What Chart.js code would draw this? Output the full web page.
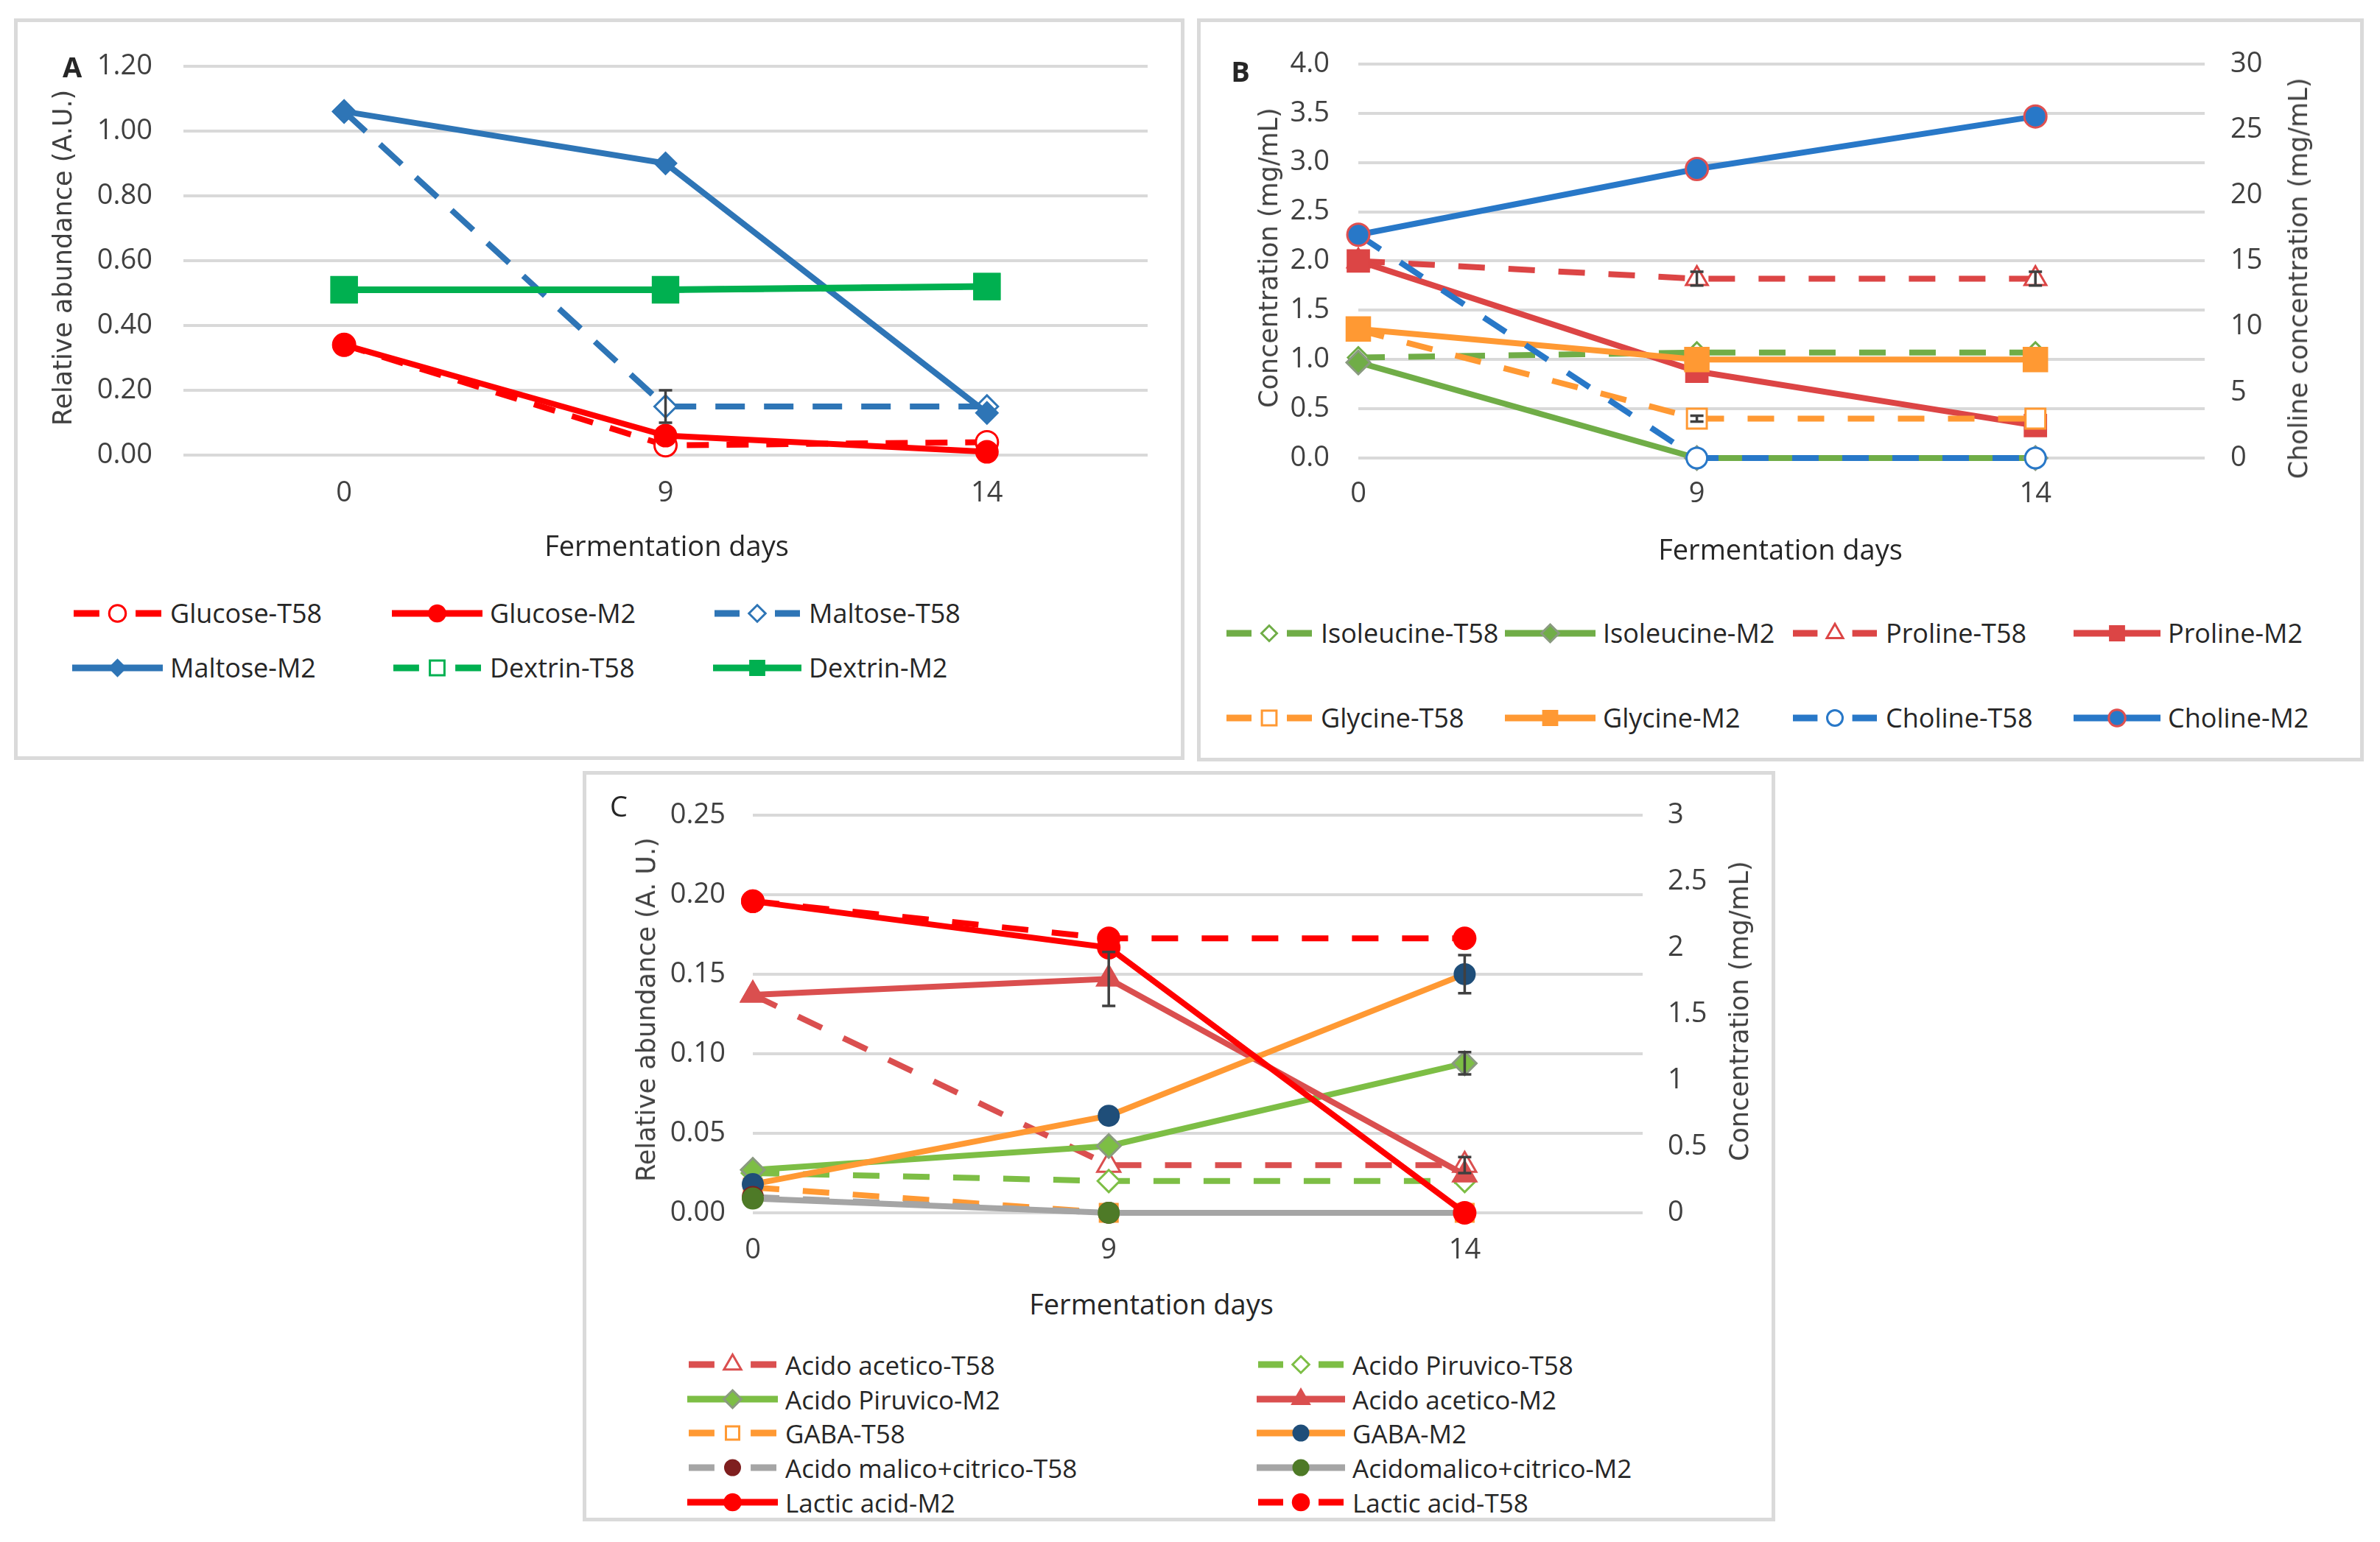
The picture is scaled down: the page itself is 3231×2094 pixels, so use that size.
<!DOCTYPE html>
<html>
<head>
<meta charset="utf-8">
<script src="https://cdn.jsdelivr.net/npm/chart.js@4.4.0/dist/chart.umd.min.js"></script>
<style>
html, body { margin: 0; padding: 0; background: #fff; }
body { width: 3231px; height: 2094px; position: relative; overflow: hidden; font-family: "Open Sans", sans-serif; color: #262626; }
.panel { position: absolute; border: 5px solid #dadada; box-sizing: border-box; }
.box { position: absolute; }
.leg { position: absolute; white-space: nowrap; line-height: 1; transform: translateY(-50%); }
.sym { position: absolute; }
.ytitle { position: absolute; font-family: "DejaVu Sans", sans-serif; font-size: 35px; color: #404040; white-space: nowrap; transform: translate(-50%, -50%) rotate(-90deg); }
.xtitle { position: absolute; font-size: 38px; color: #262626; white-space: nowrap; transform: translate(-50%, -50%); }
.letter { position: absolute; font-size: 38px; font-weight: bold; transform: translate(-50%, -50%); }
</style>
</head>
<body>

<div class="panel" style="left:19px;top:25px;width:1589px;height:1007px"></div>
<div class="panel" style="left:1625px;top:25px;width:1584px;height:1009px"></div>
<div class="panel" style="left:791px;top:1047px;width:1619px;height:1019px"></div>

<div class="box" style="left:19px;top:25px;width:1589px;height:700px"><canvas id="chartA"></canvas></div>
<div class="box" style="left:1625px;top:25px;width:1584px;height:700px"><canvas id="chartB"></canvas></div>
<div class="box" style="left:791px;top:1047px;width:1619px;height:690px"><canvas id="chartC"></canvas></div>

<div class="letter" style="left:98px;top:90px">A</div>
<div class="ytitle" style="left:85px;top:350px">Relative abundance (A.U.)</div>
<div class="xtitle" style="left:905px;top:740px">Fermentation days</div>

<div class="letter" style="left:1684px;top:96px">B</div>
<div class="ytitle" style="left:1722px;top:350px">Concentration (mg/mL)</div>
<div class="ytitle" style="left:3120px;top:378px">Choline concentration (mg/mL)</div>
<div class="xtitle" style="left:2417px;top:745px">Fermentation days</div>

<div class="letter" style="left:840px;top:1094px;font-weight:normal">C</div>
<div class="ytitle" style="left:877px;top:1371px">Relative abundance (A. U.)</div>
<div class="ytitle" style="left:2361px;top:1373px">Concentration (mg/mL)</div>
<div class="xtitle" style="left:1563px;top:1770px">Fermentation days</div>

<div id="legends"></div>

<script>
// fermentation days (x categories)
const days = ['0', '9', '14'];

// --- A: sugars, relative abundance (A.U.)
const glucoseT58 = [0.34, 0.03, 0.04];
const glucoseM2  = [0.34, 0.06, 0.01];
const maltoseT58 = [1.06, 0.15, 0.15];
const maltoseM2  = [1.06, 0.90, 0.13];
const dextrinT58 = [0.51, 0.51, 0.52];
const dextrinM2  = [0.51, 0.51, 0.52];
const maltoseT58Err = [0, 0.05, 0];

// --- B: amino acids (mg/mL), choline on right axis
const isoleucineT58 = [1.02, 1.07, 1.07];
const isoleucineM2  = [0.97, 0, 0];
const prolineT58    = [2.0, 1.82, 1.82];
const prolineM2     = [2.0, 0.88, 0.33];
const glycineT58    = [1.30, 0.40, 0.40];
const glycineM2     = [1.31, 1.0, 1.0];
const cholineT58    = [17, 0, 0];
const cholineM2     = [17, 22, 26];
const prolineT58Err = [0, 0.07, 0.07];
const glycineT58Err = [0, 0.03, 0];

// --- C: organic acids (A.U.), lactic acid on right axis (mg/mL)
const aceticT58  = [0.137, 0.030, 0.030];
const pyruvicT58 = [0.025, 0.020, 0.020];
const pyruvicM2  = [0.027, 0.042, 0.094];
const aceticM2   = [0.137, 0.147, 0.024];
const gabaT58    = [0.016, 0, 0];
const gabaM2     = [0.018, 0.061, 0.150];
const malicT58   = [0.010, 0, 0];
const malicM2    = [0.009, 0, 0];
const lacticM2   = [2.35, 2.0, 0];
const lacticT58  = [2.35, 2.07, 2.07];
const aceticT58Err  = [0, 0, 0.005];
const pyruvicM2Err  = [0, 0, 0.007];
const aceticM2Err   = [0, 0.017, 0];
const gabaM2Err     = [0, 0, 0.012];

const TICK_FONT = { family: 'Open Sans', size: 38 };
const TICK_COLOR = '#404040';
const GRID = { color: '#d9d9d9', lineWidth: 4, drawTicks: false };

function pts(values) {
  // linear x: point i sits on day index i
  return values.map((v, i) => ({ x: i, y: v }));
}

function line(label, data, color, o) {
  return Object.assign({
    label, data,
    borderColor: color, backgroundColor: color,
    borderWidth: 8, borderDash: [],
    pointStyle: 'circle', pointRadius: 14,
    pointBackgroundColor: color, pointBorderColor: color, pointBorderWidth: 2,
    tension: 0, clip: false
  }, o || {});
}

const errorBars = {
  id: 'errorBars',
  afterDatasetsDraw(chart) {
    const ctx = chart.ctx;
    chart.data.datasets.forEach((d, di) => {
      if (!d.errors) return;
      const meta = chart.getDatasetMeta(di);
      const ys = chart.scales[meta.yAxisID];
      d.errors.forEach((e, i) => {
        if (!e) return;
        const raw = d.data[i];
        const v = typeof raw === 'object' ? raw.y : raw;
        const x = meta.data[i].x;
        const y1 = ys.getPixelForValue(v + e);
        const y2 = ys.getPixelForValue(v - e);
        ctx.save();
        ctx.strokeStyle = '#404040';
        ctx.lineWidth = 3.5;
        ctx.beginPath();
        ctx.moveTo(x, y1); ctx.lineTo(x, y2);
        ctx.moveTo(x - 9, y1); ctx.lineTo(x + 9, y1);
        ctx.moveTo(x - 9, y2); ctx.lineTo(x + 9, y2);
        ctx.stroke();
        ctx.restore();
      });
    });
  }
};

function yAxis(pos, min, max, step, width, pad, fmt, grid) {
  return {
    position: pos, min, max,
    afterFit: s => { s.width = width; },
    grid: grid ? GRID : { display: false, drawTicks: false },
    border: { display: false },
    ticks: { stepSize: step, padding: pad, font: TICK_FONT, color: TICK_COLOR, callback: fmt }
  };
}

function xCategory(height, pad) {
  return {
    type: 'category', offset: true,
    afterFit: s => { s.height = height; },
    grid: { display: false, drawTicks: false },
    border: { display: false },
    ticks: { padding: pad, font: TICK_FONT, color: TICK_COLOR }
  };
}

function xDays(height, pad) {
  // Excel put the first day on the axis and left half a slot after the last one
  return {
    type: 'linear', min: 0, max: 2.5,
    afterFit: s => { s.height = height; },
    afterBuildTicks: s => { s.ticks = days.map((d, i) => ({ value: i })); },
    grid: { display: false, drawTicks: false },
    border: { display: false },
    ticks: { padding: pad, font: TICK_FONT, color: TICK_COLOR, callback: v => days[v] }
  };
}

function makeChart(id, labels, datasets, scales, padding) {
  // later series on top, like the spreadsheet
  datasets.forEach((d, i) => { d.order = -i; });
  return new Chart(document.getElementById(id), {
    type: 'line',
    data: { labels, datasets },
    options: {
      responsive: true,
      maintainAspectRatio: false,
      animation: false,
      layout: { padding },
      plugins: { legend: { display: false }, tooltip: { enabled: false } },
      events: [],
      scales
    },
    plugins: [errorBars]
  });
}

// ---------- A
const RED = '#ff0000', BLUE = '#2e75b6', GREEN = '#00b050';
const dsA = [
  line('Glucose-T58', glucoseT58, RED, { borderDash: [30, 24], pointRadius: 15, pointBackgroundColor: '#fff', pointBorderWidth: 3 }),
  line('Glucose-M2', glucoseM2, RED, { pointRadius: 15 }),
  line('Maltose-T58', maltoseT58, BLUE, { borderDash: [40, 26], pointStyle: 'rectRot', pointRadius: 15, pointBackgroundColor: '#fff', pointBorderWidth: 3, errors: maltoseT58Err }),
  line('Maltose-M2', maltoseM2, BLUE, { pointStyle: 'rectRot', pointRadius: 15 }),
  line('Dextrin-T58', dextrinT58, GREEN, { borderDash: [30, 24], pointStyle: 'rect', pointRadius: 24, pointBackgroundColor: '#fff', pointBorderWidth: 3 }),
  line('Dextrin-M2', dextrinM2, GREEN, { borderWidth: 9, pointStyle: 'rect', pointRadius: 25 })
];
makeChart('chartA', days, dsA, {
  x: xCategory(107, 29),
  y: yAxis('left', 0, 1.2, 0.2, 230, 42, v => v.toFixed(2), true)
}, { top: 52, right: 50, left: 0, bottom: 0 });

// ---------- B
const GRN = '#70ad47', PRED = '#dc4545', ORG = '#ff9933', CBLUE = '#2878c8';
const dsB = [
  line('Isoleucine-T58', pts(isoleucineT58), GRN, { borderDash: [36, 32], pointStyle: 'rectRot', pointRadius: 14, pointBackgroundColor: '#fff', pointBorderWidth: 3 }),
  line('Isoleucine-M2', pts(isoleucineM2), GRN, { pointStyle: 'rectRot', pointRadius: 16, pointBorderColor: '#8a9a80', pointBorderWidth: 3 }),
  line('Proline-T58', pts(prolineT58), PRED, { borderDash: [36, 32], pointStyle: 'triangle', pointRadius: 17, pointBackgroundColor: '#fff', pointBorderWidth: 3, errors: prolineT58Err }),
  line('Proline-M2', pts(prolineM2), PRED, { pointStyle: 'rect', pointRadius: 21 }),
  line('Glycine-T58', pts(glycineT58), ORG, { borderDash: [36, 32], pointStyle: 'rect', pointRadius: 19, pointBackgroundColor: '#fff', pointBorderWidth: 3, errors: glycineT58Err }),
  line('Glycine-M2', pts(glycineM2), ORG, { pointStyle: 'rect', pointRadius: 23 }),
  line('Choline-T58', pts(cholineT58), CBLUE, { yAxisID: 'y2', borderDash: [36, 32], pointRadius: 14, pointBackgroundColor: '#fff', pointBorderWidth: 3 }),
  line('Choline-M2', pts(cholineM2), CBLUE, { yAxisID: 'y2', pointRadius: 15, pointBorderColor: '#e05050', pointBorderWidth: 3 })
];
makeChart('chartB', undefined, dsB, {
  x: xDays(103, 26),
  y: yAxis('left', 0, 4, 0.5, 219, 39, v => v.toFixed(1), true),
  y2: yAxis('right', 0, 30, 5, 216, 35, v => String(v), false)
}, { top: 54, right: 0, left: 0, bottom: 0 });

// ---------- C
const ARED = '#da4f4f', PGRN = '#7dbe45', GRAY = '#a5a5a5';
const dsC = [
  line('Acido acetico-T58', pts(aceticT58), ARED, { borderDash: [36, 32], pointStyle: 'triangle', pointRadius: 18, pointBackgroundColor: '#fff', pointBorderWidth: 3, errors: aceticT58Err }),
  line('Acido Piruvico-T58', pts(pyruvicT58), PGRN, { borderDash: [36, 32], pointStyle: 'rectRot', pointRadius: 15, pointBackgroundColor: '#fff', pointBorderWidth: 3 }),
  line('Acido Piruvico-M2', pts(pyruvicM2), PGRN, { pointStyle: 'rectRot', pointRadius: 16, pointBorderColor: '#8a9a80', pointBorderWidth: 3, errors: pyruvicM2Err }),
  line('Acido acetico-M2', pts(aceticM2), ARED, { pointStyle: 'triangle', pointRadius: 19, errors: aceticM2Err }),
  line('GABA-T58', pts(gabaT58), ORG, { borderDash: [36, 32], pointStyle: 'rect', pointRadius: 17, pointBackgroundColor: '#fff', pointBorderWidth: 3 }),
  line('GABA-M2', pts(gabaM2), ORG, { pointRadius: 14, pointBackgroundColor: '#1f4e79', pointBorderColor: '#1f4e79', errors: gabaM2Err }),
  line('Acido malico+citrico-T58', pts(malicT58), GRAY, { borderDash: [36, 32], pointRadius: 14, pointBackgroundColor: '#7f1f1f', pointBorderColor: '#7f1f1f' }),
  line('Acidomalico+citrico-M2', pts(malicM2), GRAY, { pointRadius: 14, pointBackgroundColor: '#4e7a27', pointBorderColor: '#4e7a27' }),
  line('Lactic acid-M2', pts(lacticM2), RED, { yAxisID: 'y2', pointRadius: 15 }),
  line('Lactic acid-T58', pts(lacticT58), RED, { yAxisID: 'y2', borderDash: [36, 32], pointRadius: 15 })
];
makeChart('chartC', undefined, dsC, {
  x: xDays(90, 28),
  y: yAxis('left', 0, 0.25, 0.05, 231, 37, v => v.toFixed(2), true),
  y2: yAxis('right', 0, 3, 0.5, 180, 34, v => String(v), false)
}, { top: 50, right: 0, left: 0, bottom: 0 });

// ---------- legends (html text, canvas symbols)
function drawMarker(ctx, style, x, y, r, fill, stroke, lw) {
  ctx.beginPath();
  if (style === 'rect') {
    const s = r * Math.SQRT1_2;
    ctx.rect(x - s, y - s, 2 * s, 2 * s);
  } else if (style === 'rectRot') {
    ctx.moveTo(x, y - r); ctx.lineTo(x + r, y); ctx.lineTo(x, y + r); ctx.lineTo(x - r, y); ctx.closePath();
  } else if (style === 'triangle') {
    ctx.moveTo(x, y - r);
    ctx.lineTo(x + r * 0.866, y + r / 2);
    ctx.lineTo(x - r * 0.866, y + r / 2);
    ctx.closePath();
  } else {
    ctx.arc(x, y, r, 0, Math.PI * 2);
  }
  ctx.fillStyle = fill; ctx.fill();
  ctx.lineWidth = lw; ctx.strokeStyle = stroke; ctx.stroke();
}

function buildLegend(datasets, slots, fontSize) {
  const host = document.getElementById('legends');
  datasets.forEach((d, i) => {
    const [symX, textX, rowY] = slots[i];
    const w = textX - symX - 10, h = 44;
    const cv = document.createElement('canvas');
    cv.width = w; cv.height = h;
    cv.className = 'sym';
    cv.style.left = symX + 'px';
    cv.style.top = (rowY - h / 2) + 'px';
    host.appendChild(cv);
    const ctx = cv.getContext('2d');
    ctx.strokeStyle = d.borderColor;
    ctx.lineWidth = 9;
    ctx.beginPath();
    if (d.borderDash.length) {
      ctx.moveTo(2, h / 2); ctx.lineTo(w * 0.3, h / 2);
      ctx.moveTo(w * 0.7, h / 2); ctx.lineTo(w - 2, h / 2);
    } else {
      ctx.moveTo(0, h / 2); ctx.lineTo(w, h / 2);
    }
    ctx.stroke();
    drawMarker(ctx, d.pointStyle, w / 2, h / 2, Math.min(d.pointRadius * 0.75, 14),
      d.pointBackgroundColor, d.pointBorderColor, Math.min(d.pointBorderWidth, 3));
    const t = document.createElement('div');
    t.className = 'leg';
    t.style.left = textX + 'px';
    t.style.top = rowY + 'px';
    t.style.fontSize = fontSize + 'px';
    t.textContent = d.label;
    host.appendChild(t);
  });
}

// slots: [symbol left, text left, row centre]
buildLegend(dsA, [
  [98, 231, 833], [532, 665, 833], [968, 1098, 833],
  [98, 231, 907], [532, 665, 907], [968, 1098, 907]
], 36);
buildLegend(dsB, [
  [1663, 1793, 860], [2043, 2176, 860], [2432, 2560, 860], [2815, 2943, 860],
  [1663, 1793, 975], [2043, 2176, 975], [2432, 2560, 975], [2815, 2943, 975]
], 36);
buildLegend(dsC, [
  [933, 1066, 1853], [1706, 1836, 1853],
  [933, 1066, 1900], [1706, 1836, 1900],
  [933, 1066, 1946], [1706, 1836, 1946],
  [933, 1066, 1993], [1706, 1836, 1993],
  [933, 1066, 2040], [1706, 1836, 2040]
], 35);
</script>
</body>
</html>
